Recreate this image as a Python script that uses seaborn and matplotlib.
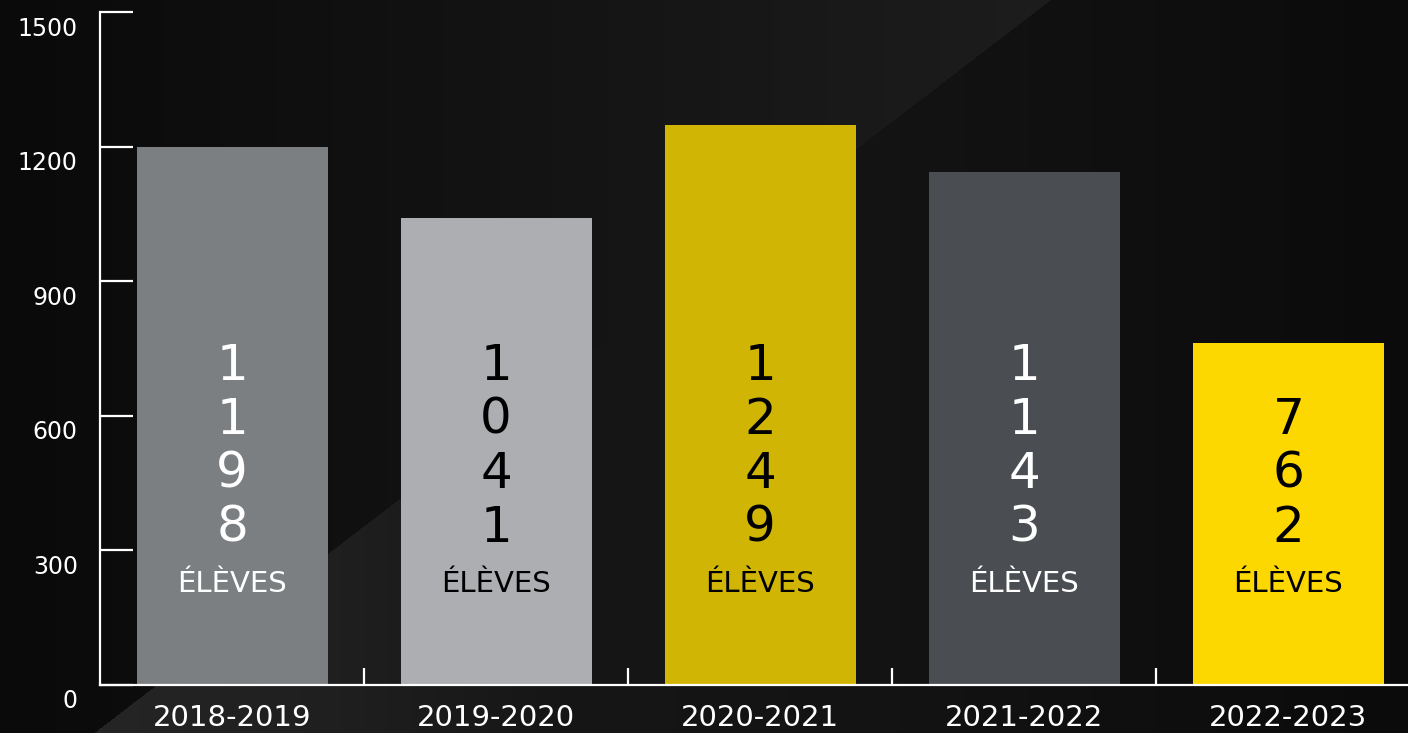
# Élèves par année scolaire - bar chart on a dark background
import matplotlib
matplotlib.use("Agg")
import matplotlib.pyplot as plt
from matplotlib.transforms import ScaledTranslation
import numpy as np
import seaborn as sns

# Data
years = ["2018-2019", "2019-2020", "2020-2021", "2021-2022", "2022-2023"]
students = [1198, 1041, 1249, 1143, 762]
bar_colors = ["#7b7f82", "#acaeb1", "#d1b505", "#4a4d52", "#fdd800"]
text_colors = ["white", "black", "black", "white", "black"]
y_ticks = [0, 300, 600, 900, 1200, 1500]
unit_label = "ÉLÈVES"

sns.set_style("white")
plt.rcParams["font.family"] = ["DejaVu Sans"]

fig = plt.figure(figsize=(14.08, 7.33), dpi=100)

# Background: two diagonal halves with opposite horizontal gradients
W, H = 1408, 733
xx, yy = np.meshgrid(np.arange(W), np.arange(H))
upper = xx < 1050 - 1.305 * yy
val_a = 10 + 19 * xx / 1050
val_b = np.interp(xx, [0, 100, 340, 560, 900, 1408], [38, 37, 31, 22, 19, 11])
bg = np.where(upper, val_a, val_b) / 255.0
bg_rgb = np.dstack([bg, bg, bg])
ax_bg = fig.add_axes([0, 0, 1, 1], zorder=-1)
ax_bg.imshow(bg_rgb, aspect="auto", extent=[0, 1, 0, 1])
ax_bg.axis("off")

# Main axes
ax = fig.add_axes([100 / W, (H - 685) / H, (W - 100) / W, (685 - 12) / H])
ax.set_facecolor("none")

sns.barplot(x=years, y=students, hue=years, palette=bar_colors, legend=False,
            saturation=1, width=0.723, linewidth=0, ax=ax, zorder=2)

ax.set_xlim(-0.5, 4.453)
ax.set_ylim(0, 1500)
ax.set_yticks(y_ticks)
ax.set_yticklabels([str(t) for t in y_ticks])

for side in ["top", "right"]:
    ax.spines[side].set_visible(False)
for side in ["left", "bottom"]:
    ax.spines[side].set_color("white")
    ax.spines[side].set_linewidth(1.6)
    ax.spines[side].set_zorder(3)

ax.tick_params(axis="y", direction="in", length=24, width=1.6, color="white",
               labelcolor="white", labelsize=17, pad=16, left=True)
ax.tick_params(axis="x", which="major", length=0, labelcolor="white",
               labelsize=21, pad=14)
ax.set_xticks([0.5, 1.5, 2.5, 3.5], minor=True)
ax.tick_params(axis="x", which="minor", direction="in", length=12, width=1.6,
               color="white", bottom=True)
ax.set_xlabel("")
ax.set_ylabel("")

# y labels sit a little below their ticks
offset = ScaledTranslation(0, -14 / 100, fig.dpi_scale_trans)
for lab in ax.get_yticklabels():
    lab.set_transform(lab.get_transform() + offset)

# Stacked digits inside the bars
row_step = 54 / 0.448
last_row_y = 350
for i, (value, col) in enumerate(zip(students, text_colors)):
    digits = str(value)
    for k, d in enumerate(reversed(digits)):
        ax.text(i, last_row_y + k * row_step, d, ha="center", va="center",
                fontsize=36, color=col, zorder=4)
    ax.text(i, 225, unit_label, ha="center", va="center", fontsize=21,
            color=col, zorder=4)

fig.savefig("out.png", dpi=100)
